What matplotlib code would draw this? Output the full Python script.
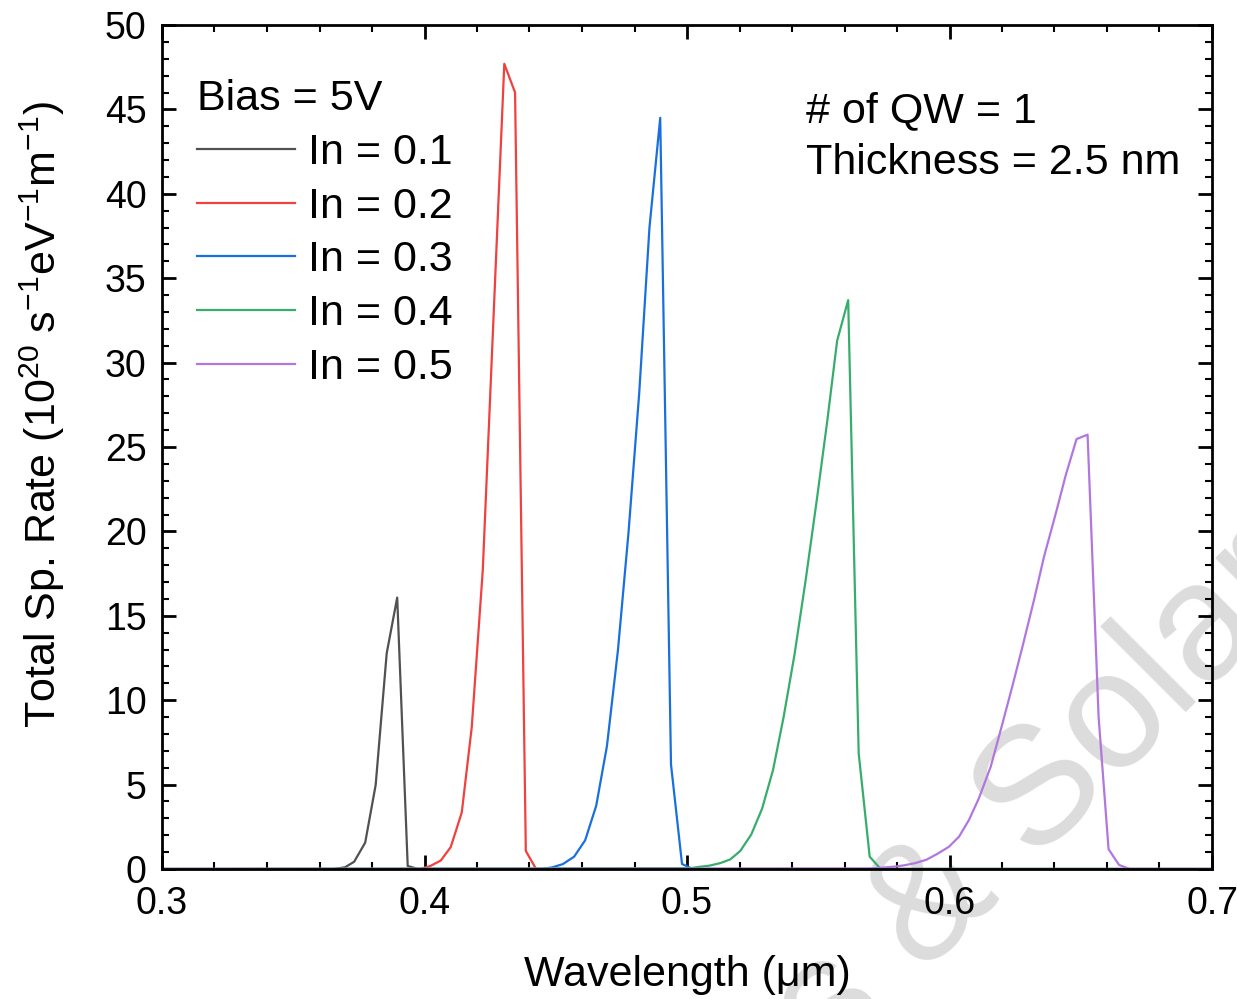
import matplotlib
matplotlib.use("Agg")
import matplotlib.pyplot as plt
from matplotlib.ticker import MultipleLocator

plt.rcParams["font.family"] = ["Liberation Sans", "DejaVu Sans"]
plt.rcParams["mathtext.fontset"] = "custom"
plt.rcParams["mathtext.rm"] = "Liberation Sans"
plt.rcParams["mathtext.it"] = "Liberation Sans:italic"

# wavelength (um) / total spontaneous rate (1e20 s^-1 eV^-1 m^-1)
wl_01 = [0.300, 0.3655, 0.3697, 0.3732, 0.3774, 0.3814, 0.3856, 0.3896, 0.3936, 0.3976, 0.700]
sp_01 = [0, 0, 0.10, 0.43, 1.56, 4.98, 12.78, 16.08, 0.18, 0, 0]

wl_02 = [0.300, 0.3983, 0.4021, 0.4062, 0.4100, 0.4142, 0.4180, 0.4222, 0.4263, 0.4304,
         0.4345, 0.4386, 0.4425, 0.4467, 0.700]
sp_02 = [0, 0, 0.17, 0.5, 1.3, 3.35, 8.4, 17.7, 32.7, 47.7, 46.0, 1.07, 0, 0, 0]

wl_03 = [0.300, 0.4441, 0.4485, 0.4527, 0.4570, 0.4612, 0.4654, 0.4695, 0.4737, 0.4777,
         0.4818, 0.4857, 0.4898, 0.4939, 0.4981, 0.5022, 0.700]
sp_03 = [0, 0, 0.09, 0.29, 0.73, 1.7, 3.74, 7.28, 12.97, 19.9, 28.2, 38.0, 44.5, 6.2, 0.3, 0, 0]

wl_04 = [0.300, 0.5013, 0.5044, 0.5086, 0.5127, 0.5165, 0.5203, 0.5245, 0.5286, 0.5328,
         0.5368, 0.5409, 0.5451, 0.5493, 0.5534, 0.5572, 0.5614, 0.5654, 0.5696, 0.5735,
         0.5777, 0.700]
sp_04 = [0, 0.05, 0.12, 0.2, 0.35, 0.57, 1.07, 2.05, 3.57, 5.88, 9.0, 12.65, 17.0, 21.7,
         26.5, 31.3, 33.7, 6.86, 0.73, 0.05, 0, 0]

wl_05 = [0.300, 0.5702, 0.5744, 0.5786, 0.5828, 0.5870, 0.5912, 0.5953, 0.5998, 0.6036,
         0.6074, 0.6112, 0.6157, 0.6195, 0.6239, 0.6278, 0.6322, 0.6360, 0.6405, 0.6443,
         0.6484, 0.6526, 0.6568, 0.6606, 0.6646, 0.6687, 0.700]
sp_05 = [0, 0.03, 0.08, 0.13, 0.22, 0.35, 0.55, 0.89, 1.32, 1.91, 2.9, 4.19, 6.06, 8.23,
         10.8, 13.17, 15.94, 18.5, 21.07, 23.34, 25.47, 25.73, 9.0, 1.17, 0.24, 0, 0]

series = [
    ("In = 0.1", wl_01, sp_01, "#515151"),
    ("In = 0.2", wl_02, sp_02, "#F14040"),
    ("In = 0.3", wl_03, sp_03, "#1A6FDF"),
    ("In = 0.4", wl_04, sp_04, "#37AD6B"),
    ("In = 0.5", wl_05, sp_05, "#B177DE"),
]

fig = plt.figure(figsize=(12.37, 9.99), dpi=100)
ax = fig.add_axes([162 / 1237, 1 - 869 / 999, 1050 / 1237, 844 / 999])
ax.set_facecolor("none")

for label, x, y, c in series:
    ax.plot(x, y, color=c, lw=1.6, label=label)

ax.set_xlim(0.3, 0.7)
ax.set_ylim(0, 50)
ax.xaxis.set_major_locator(MultipleLocator(0.1))
ax.xaxis.set_minor_locator(MultipleLocator(0.02))
ax.yaxis.set_major_locator(MultipleLocator(5))
ax.yaxis.set_minor_locator(MultipleLocator(1))
ax.tick_params(which="both", direction="in", top=True, right=True, labelsize=27)
ax.tick_params(which="major", length=10, width=2)
ax.tick_params(which="minor", length=5, width=1.5)
ax.tick_params(axis="y", pad=11)
ax.tick_params(axis="x", pad=12)
for s in ax.spines.values():
    s.set_linewidth(2)

ax.set_xlabel("Wavelength (μm)", fontsize=31, labelpad=24)
ax.set_ylabel("Total Sp. Rate (10$^{20}$ s$^{-1}$eV$^{-1}$m$^{-1}$)", fontsize=31)
ax.yaxis.set_label_coords(-0.090, 0.538)

leg = ax.legend(title="Bias = 5V", loc="upper left", bbox_to_anchor=(0.033, 0.936),
                frameon=False, fontsize=31, title_fontsize=31, handlelength=2.28,
                handletextpad=0.3, labelspacing=0.32, borderpad=0, borderaxespad=0,
                alignment="left")
for h in leg.get_lines():
    h.set_linewidth(1.6)

ax.text(0.613, 0.922, "# of QW = 1\nThickness = 2.5 nm", transform=ax.transAxes,
        fontsize=31, va="top", ha="left", linespacing=1.4)

# faint watermark in the lower right, behind the curves
fig.text(0.603, -0.092, "s & Solar", fontsize=120, color="#dcdcdc", rotation=45,
         ha="left", va="bottom", zorder=-1)

fig.savefig("out.png", dpi=100)
